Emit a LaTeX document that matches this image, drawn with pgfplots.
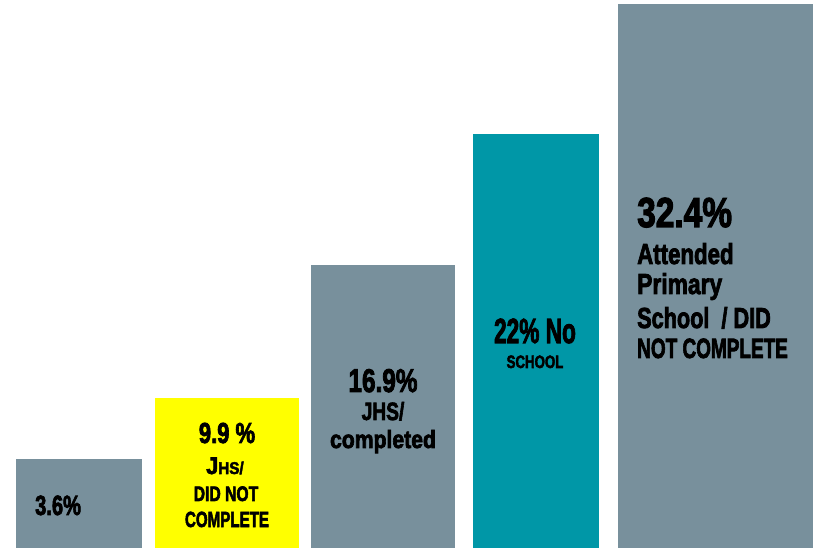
\documentclass[border=0pt]{standalone}
\usepackage{pgfplots}
\pgfplotsset{compat=1.18}
\usepackage{graphicx}
\usepackage{fontspec}
\setmainfont{Liberation Sans}[BoldFeatures={FakeBold=3}]

\definecolor{slate}{RGB}{120,144,156}
\definecolor{tealbar}{RGB}{0,151,167}
\definecolor{yel}{RGB}{255,255,0}

% \lbl{size}{xscale}{text}
\newcommand{\lbl}[3]{{\fontsize{#1}{#1}\selectfont\bfseries\scalebox{#2}[1]{#3}}}

\begin{document}
\begin{tikzpicture}
\useasboundingbox (0,0) rectangle (818bp,548bp);
\begin{axis}[
    at={(0,0)}, anchor=south west,
    width=818bp, height=548bp,
    scale only axis,
    xmin=0, xmax=818,
    ymin=0, ymax=548,
    hide axis,
    clip=false,
]

% bars: left edge, right edge, height (px of the original)
\addplot[fill=slate, draw=none] coordinates {(16,0) (142,0) (142,89) (16,89)} --cycle;
\addplot[fill=yel, draw=none] coordinates {(155,0) (299,0) (299,150) (155,150)} --cycle;
\addplot[fill=slate, draw=none] coordinates {(311,0) (455,0) (455,283) (311,283)} --cycle;
\addplot[fill=tealbar, draw=none] coordinates {(473,0) (599,0) (599,414) (473,414)} --cycle;
\addplot[fill=slate, draw=none] coordinates {(618,0) (813,0) (813,544) (618,544)} --cycle;

% bar 1
\node[anchor=base west, inner sep=0] at (axis cs:35,33) {\lbl{28}{0.72}{3.6\%}};

% bar 2
\node[anchor=base, inner sep=0] at (axis cs:227,105) {\lbl{29}{0.76}{9.9 \%}};
\node[anchor=base, inner sep=0] at (axis cs:225,74) {\lbl{24}{0.9}{J{\fontsize{17}{17}\selectfont HS/}}};
\node[anchor=base, inner sep=0] at (axis cs:226,47) {\lbl{21}{0.75}{DID NOT}};
\node[anchor=base, inner sep=0] at (axis cs:227,21) {\lbl{22}{0.69}{COMPLETE}};

% bar 3
\node[anchor=base, inner sep=0] at (axis cs:383,156) {\lbl{33}{0.74}{16.9\%}};
\node[anchor=base, inner sep=0] at (axis cs:383,128) {\lbl{25}{0.77}{JHS/}};
\node[anchor=base, inner sep=0] at (axis cs:383,100) {\lbl{25}{0.85}{completed}};

% bar 4
\node[anchor=base, inner sep=0] at (axis cs:535,205) {\lbl{35}{0.65}{22\% No}};
\node[anchor=base, inner sep=0] at (axis cs:535,180) {\lbl{18}{0.74}{SCHOOL}};

% bar 5
\node[anchor=base west, inner sep=0] at (axis cs:637,321) {\lbl{42}{0.80}{32.4\%}};
\node[anchor=base west, inner sep=0] at (axis cs:637,284) {\lbl{29}{0.77}{Attended}};
\node[anchor=base west, inner sep=0] at (axis cs:637,254) {\lbl{29}{0.79}{Primary}};
\node[anchor=base west, inner sep=0] at (axis cs:637,220) {\lbl{29}{0.75}{School\ \ / DID}};
\node[anchor=base west, inner sep=0] at (axis cs:637,190) {\lbl{28}{0.68}{NOT COMPLETE}};

\end{axis}
\end{tikzpicture}
\end{document}
